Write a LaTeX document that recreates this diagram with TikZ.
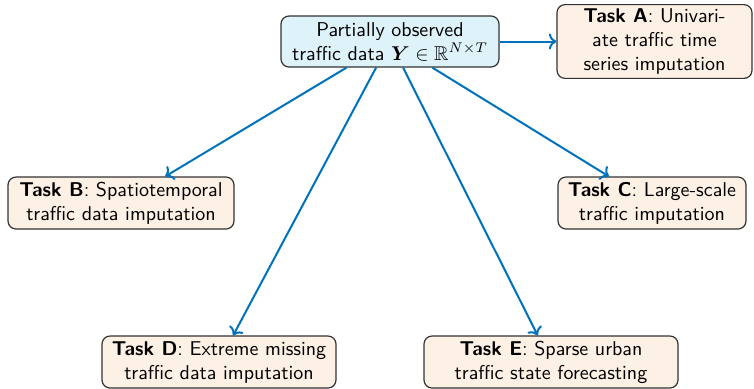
\documentclass[tikz,border=0pt]{standalone}
\usepackage{amsmath,amssymb,bm}
\usetikzlibrary{arrows.meta}
\renewcommand{\familydefault}{\sfdefault}
\definecolor{srcfill}{RGB}{222,242,250}
\definecolor{taskfill}{RGB}{253,240,228}
\definecolor{flowblue}{RGB}{0,114,189}
\begin{document}
\begin{tikzpicture}[x=0.5pt,y=-0.5pt,
  box/.style={draw=black!80, line width=0.6pt, rounded corners=4pt, align=center,
    inner sep=2pt, minimum height=26pt, font=\sffamily},
  srcbox/.style={box, fill=srcfill},
  taskbox/.style={box, fill=taskfill},
  flow/.style={->, draw=flowblue, line width=1pt}]
\useasboundingbox (0,0) rectangle (754,388);
\node[srcbox, minimum width=109pt, minimum height=25.5pt] (src) at (390,41.5)
  {Partially observed\\traffic data $\boldsymbol{Y}\in\mathbb{R}^{N\times T}$};
\node[taskbox, minimum width=97.5pt, minimum height=35.5pt] (ta) at (654.5,41.5)
  {\textbf{Task A}: Univari-\\ate traffic time\\series imputation};
\node[taskbox, minimum width=113pt] (tb) at (121,203)
  {\textbf{Task B}: Spatiotemporal\\traffic data imputation};
\node[taskbox, minimum width=94pt] (tc) at (652,203)
  {\textbf{Task C}: Large-scale\\traffic imputation};
\node[taskbox, minimum width=117pt] (td) at (219,362)
  {\textbf{Task D}: Extreme missing\\traffic data imputation};
\node[taskbox, minimum width=127pt] (te) at (551,362)
  {\textbf{Task E}: Sparse urban\\traffic state forecasting};
\draw[flow] (src) -- (ta);
\draw[flow] (src) -- (tb);
\draw[flow] (src) -- (tc);
\draw[flow] (src) -- (td);
\draw[flow] (src) -- (te);
\end{tikzpicture}
\end{document}
